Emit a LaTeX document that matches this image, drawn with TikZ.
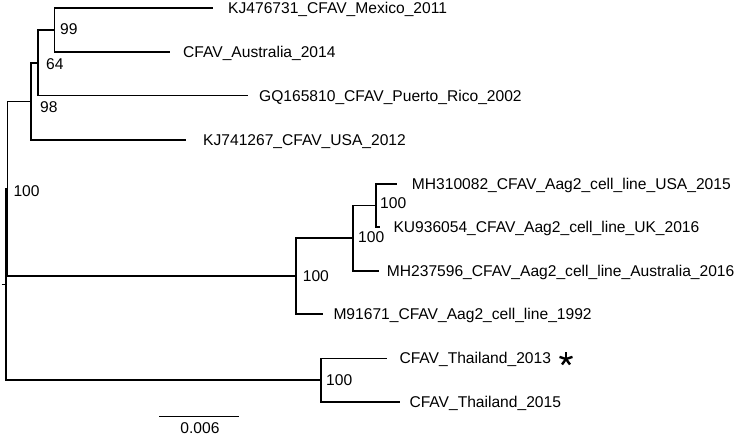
\documentclass[tikz,border=0pt]{standalone}
\usepackage{fontspec}
\setmainfont{Liberation Sans}
\begin{document}
\begin{tikzpicture}[x=1pt,y=-1pt,
  branch/.style={line width=1.6pt},
  lbl/.style={anchor=west,inner sep=0pt,text height=11.2pt,text depth=0pt,font=\fontsize{15.6}{18}\selectfont},
  boot/.style={lbl},
  starmark/.style={line width=2.4pt}]
\useasboundingbox (0,0) rectangle (742,436);
% internal nodes
\coordinate (Rs) at (1.5,284.3);
\coordinate (R)  at (6,284.3);
\coordinate (N1) at (7.3,188.7);
\coordinate (A3) at (30.7,101.5);
\coordinate (A2) at (37.7,63);
\coordinate (A1) at (54.3,30.3);
\coordinate (B1) at (295.7,276);
\coordinate (B2) at (352.7,238);
\coordinate (B3) at (375.7,205.3);
\coordinate (C1) at (321,380);
% tip ends
\coordinate (tMex) at (213,8.3);
\coordinate (tAus) at (170,52.3);
\coordinate (tPR)  at (248,95.7);
\coordinate (tUSA) at (186,140);
\coordinate (tMH3) at (396.5,184);
\coordinate (tKU)  at (380,226.7);
\coordinate (tMH2) at (379.3,270.7);
\coordinate (tM91) at (322.7,314);
\coordinate (tT13) at (386.5,358.3);
\coordinate (tT15) at (400,401.7);
% branches
\draw[branch] (Rs) -- (R);
\draw[branch] (R) |- (N1);
\draw[branch] (R) |- (C1);
\draw[branch] (N1) |- (A3);
\draw[branch] (N1) |- (B1);
\draw[branch] (A3) |- (A2);
\draw[branch] (A3) |- (tUSA);
\draw[branch] (A2) |- (A1);
\draw[branch] (A2) |- (tPR);
\draw[branch] (A1) |- (tMex);
\draw[branch] (A1) |- (tAus);
\draw[branch] (B1) |- (B2);
\draw[branch] (B1) |- (tM91);
\draw[branch] (B2) |- (B3);
\draw[branch] (B2) |- (tMH2);
\draw[branch] (B3) |- (tMH3);
\draw[branch] (B3) |- (tKU);
\draw[branch] (C1) |- (tT13);
\draw[branch] (C1) |- (tT15);
% tip labels
\node[lbl] (lMex) at (228,8.3)   {KJ476731\_CFAV\_Mexico\_2011};
\node[lbl] (lAus) at (183,52.3)  {CFAV\_Australia\_2014};
\node[lbl] (lPR)  at (259,95.7)  {GQ165810\_CFAV\_Puerto\_Rico\_2002};
\node[lbl] (lUSA) at (203,140)   {KJ741267\_CFAV\_USA\_2012};
\node[lbl] (lMH3) at (411.7,184) {MH310082\_CFAV\_Aag2\_cell\_line\_USA\_2015};
\node[lbl] (lKU)  at (393.3,226.7) {KU936054\_CFAV\_Aag2\_cell\_line\_UK\_2016};
\node[lbl] (lMH2) at (386.7,270.7) {MH237596\_CFAV\_Aag2\_cell\_line\_Australia\_2016};
\node[lbl] (lM91) at (333.3,314) {M91671\_CFAV\_Aag2\_cell\_line\_1992};
\node[lbl] (lT13) at (399.3,358.3) {CFAV\_Thailand\_2013};
\node[lbl] (lT15) at (409.3,401.7) {CFAV\_Thailand\_2015};
% bootstrap values
\node[boot] (b99) at (60,29.3)    {99};
\node[boot] (b64) at (46,64)      {64};
\node[boot] (b98) at (40,106.7)   {98};
\node[boot] (bN1) at (13.3,190.7) {100};
\node[boot] (bB1) at (302.7,276)  {100};
\node[boot] (bB2) at (358,237.3)  {100};
\node[boot] (bB3) at (380,203.3)  {100};
\node[boot] (bC1) at (326,380)    {100};
% star marker
\coordinate (star) at (566,359);
\foreach \a in {90,18,162,234,306}
  \draw[starmark] (star) -- ++(-\a:6.8);
% scale bar
\coordinate (sb1) at (159,416.3);
\coordinate (sb2) at (239,416.3);
\draw[line width=1.6pt] (sb1) -- (sb2);
\node[lbl,anchor=center] (sbl) at (200,428.3) {0.006};
\end{tikzpicture}
\end{document}
